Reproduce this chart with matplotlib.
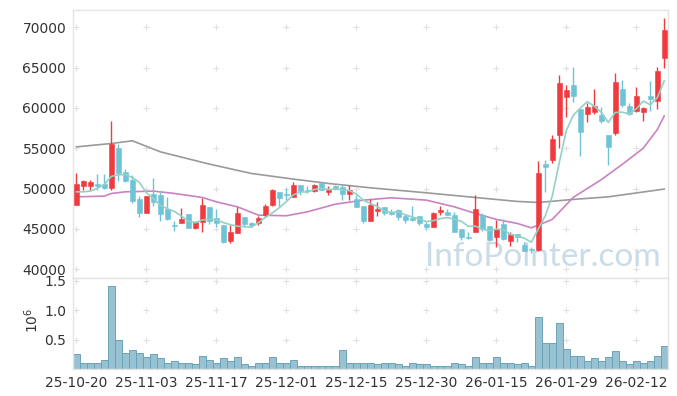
# candle chart with volume, InfoPointer style
import numpy as np
import pandas as pd
import matplotlib
matplotlib.use('Agg')
import matplotlib.pyplot as plt

# data (prices in won, volume in shares)
dates = ['25-10-20', '25-11-03', '25-11-17', '25-12-01', '25-12-15',
         '25-12-30', '26-01-15', '26-01-29', '26-02-12']

opens = [47980, 50340, 50340, 50550, 50550, 50050, 55000, 52030, 51040, 48690,
         46990, 49300, 49180, 47480, 45450, 45670, 46820, 45120, 45830, 47740,
         46330, 45460, 43510, 44500, 46410, 45700, 45670, 46700, 47940, 49550,
         49340, 48970, 50420, 49800, 49710, 50630, 49550, 50300, 50140, 49340,
         48720, 47820, 46000, 47230, 47650, 47030, 47320, 46620, 46330, 46540,
         45620, 45250, 47110, 47110, 46740, 44960, 44010, 44550, 46660, 45300,
         44010, 45580, 43510, 44300, 42980, 42480, 42400, 53030, 53520, 56630,
         61300, 62830, 59850, 59200, 59450, 59080, 56630, 56840, 62410, 60220,
         59640, 59520, 61460, 60890, 66140]
closes = [50550, 50920, 50800, 50300, 50050, 55500, 51870, 50960, 48480, 46990,
          49060, 48310, 46820, 46240, 45400, 46170, 45120, 45870, 47940, 45920,
          45750, 43390, 44590, 46990, 45580, 45420, 46290, 47820, 49800, 48810,
          49220, 50420, 49710, 49640, 50420, 49800, 49840, 49960, 49300, 49800,
          47730, 46000, 47900, 47440, 46910, 46860, 46410, 46080, 46080, 45710,
          45210, 46990, 47360, 46740, 44630, 44010, 43850, 47440, 44920, 43600,
          44920, 43720, 44340, 43970, 42270, 42400, 51870, 52620, 56130, 63040,
          62210, 61460, 57030, 60150, 60270, 58400, 55180, 63200, 60340, 59200,
          61460, 60020, 61050, 64570, 69650]
highs = [51950, 51000, 51040, 51800, 51800, 58330, 55500, 52440, 51620, 49060,
         49100, 51250, 49520, 48900, 46000, 47530, 46820, 46000, 48770, 47740,
         47400, 45460, 45460, 47650, 46410, 45870, 46580, 48060, 49920, 49550,
         50050, 50760, 50420, 50300, 50550, 50630, 50260, 50460, 50550, 50460,
         49140, 47820, 48720, 48300, 47650, 47400, 47400, 46870, 47820, 46540,
         45870, 47030, 47820, 47400, 47030, 44960, 44630, 49200, 46990, 45300,
         46080, 46170, 44630, 44420, 43350, 42770, 53400, 53520, 56630, 64070,
         62830, 65110, 59850, 60650, 62290, 60150, 56630, 64280, 63450, 60650,
         62540, 60100, 63320, 65110, 71100]
lows = [47900, 49800, 49800, 49800, 49950, 49800, 50960, 50800, 48230, 46490,
        46990, 47820, 46000, 46080, 44750, 45670, 45120, 45000, 44550, 45600,
        45170, 43300, 43260, 44500, 45330, 45170, 45500, 46450, 47820, 47700,
        48560, 48970, 49180, 49430, 49520, 49800, 49140, 49840, 48560, 48560,
        47730, 45750, 46000, 46600, 46750, 46660, 46080, 45750, 46000, 45460,
        44920, 45170, 46700, 46740, 44630, 43600, 43720, 44550, 44750, 43470,
        42770, 43600, 42900, 43350, 42270, 41950, 42300, 49590, 53150, 55010,
        58820, 60770, 54020, 58280, 59300, 58080, 52900, 56700, 60150, 59100,
        59500, 58370, 59600, 59820, 64900]
volumes = [250000, 110000, 110000, 110000, 150000, 1410000, 490000, 280000, 320000, 280000,
           200000, 250000, 180000, 110000, 130000, 100000, 100000, 80000, 230000, 150000,
           100000, 180000, 130000, 200000, 80000, 60000, 100000, 110000, 200000, 110000,
           110000, 150000, 60000, 60000, 60000, 50000, 60000, 60000, 320000, 110000,
           100000, 100000, 110000, 80000, 110000, 100000, 80000, 60000, 110000, 80000,
           80000, 60000, 60000, 50000, 100000, 80000, 50000, 200000, 100000, 100000,
           200000, 110000, 110000, 80000, 110000, 60000, 880000, 440000, 440000, 780000,
           340000, 230000, 220000, 130000, 180000, 130000, 200000, 300000, 130000, 80000,
           130000, 100000, 130000, 220000, 390000]

# closes of the days before the window (for the 5-day average)
prior_closes = [50900, 50350, 48650, 47500]

# longer averages
ma20_idx = [0, 4, 5, 7, 11, 14, 18, 20, 23, 26, 30, 33, 37, 41, 45, 50, 54, 57,
            60, 63, 65, 68, 71, 75, 78, 81, 83, 84]
ma20_val = [48970, 49060, 49390, 49590, 49680, 49390, 48890, 48350, 47730, 46700,
            46620, 47110, 48060, 48560, 48850, 48560, 47730, 46910, 46170, 45670,
            45120, 46170, 48900, 51100, 53000, 55000, 57300, 59000]
ma60_idx = [0, 5, 8, 12, 19, 25, 31, 36, 42, 50, 57, 63, 66, 71, 76, 84]
ma60_val = [55170, 55590, 55920, 54550, 53030, 51870, 51170, 50630, 50090, 49470,
            48890, 48400, 48270, 48650, 48970, 49930]

# style
up_c = '#ef3b3f'
down_c = '#6ec3d6'
grid_c = '#e0e0e0'
frame_c = '#e4e4e4'
text_c = '#333333'
plt.rcParams['font.family'] = 'DejaVu Sans'

n = len(closes)
x = np.arange(n)
ma5 = pd.Series(prior_closes + closes).rolling(5).mean().to_numpy()[len(prior_closes):]

fig = plt.figure(figsize=(6.77, 3.96), dpi=100, facecolor='white')
ax = fig.add_axes([0.1083, 0.298, 0.878, 0.6767])
axv = fig.add_axes([0.1083, 0.068, 0.878, 0.23], sharex=ax)

# watermark behind everything
ax.text(0.988, 0.045, 'InfoPointer.com', transform=ax.transAxes, ha='right', va='baseline',
        fontsize=24, color='#c9dce7', family='Lato', zorder=0)

# candles
for i in range(n):
    o, c, h, l = opens[i], closes[i], highs[i], lows[i]
    col = up_c if c >= o else down_c
    ax.vlines(i, l, h, color=col, linewidth=1.0, zorder=3)
    ax.bar(i, max(abs(c - o), 60), bottom=min(o, c), width=0.72, color=col,
           edgecolor=col, linewidth=0.4, zorder=4)

ax.plot(x, ma5, color='#93d1c6', linewidth=1.2, zorder=5)
ax.plot(ma20_idx, ma20_val, color='#c983c2', linewidth=1.2, zorder=2)
ax.plot(ma60_idx, ma60_val, color='#9a9a9a', linewidth=1.2, zorder=2)

# volume
axv.bar(x, np.array(volumes) / 1e6, width=1.0, color='#98c1d1',
        edgecolor='#6aa4ba', linewidth=0.7, zorder=2)

xt = np.arange(0, n, 10)
pt = np.arange(40000, 70001, 5000)
vt = [0.5, 1.0, 1.5]

ax.set_xlim(-0.45, 84.5)
ax.set_ylim(38900, 72150)
axv.set_ylim(0, 1.55)

# grid as small crosses
gx, gy = np.meshgrid(xt, pt)
ax.scatter(gx.ravel(), gy.ravel(), marker='+', s=22, color=grid_c, linewidths=0.8, zorder=1)
gx, gy = np.meshgrid(xt, vt)
axv.scatter(gx.ravel(), gy.ravel(), marker='+', s=22, color=grid_c, linewidths=0.8, zorder=1)

ax.set_yticks(pt)
ax.set_yticklabels([str(v) for v in pt])
axv.set_yticks(vt)
axv.set_yticklabels(['0.5', '1.0', '1.5'])
axv.set_xticks(xt)
axv.set_xticklabels(dates)
ax.tick_params(axis='x', labelbottom=False, length=0)

for a in (ax, axv):
    a.tick_params(length=0, labelsize=10, colors=text_c, pad=5)
    for s in a.spines.values():
        s.set_color(frame_c)
        s.set_linewidth(1)

fig.text(0.047, 0.19, '$10^6$', rotation=90, fontsize=10, color=text_c,
         ha='center', va='center')

fig.savefig('out.png', dpi=100, facecolor='white')
